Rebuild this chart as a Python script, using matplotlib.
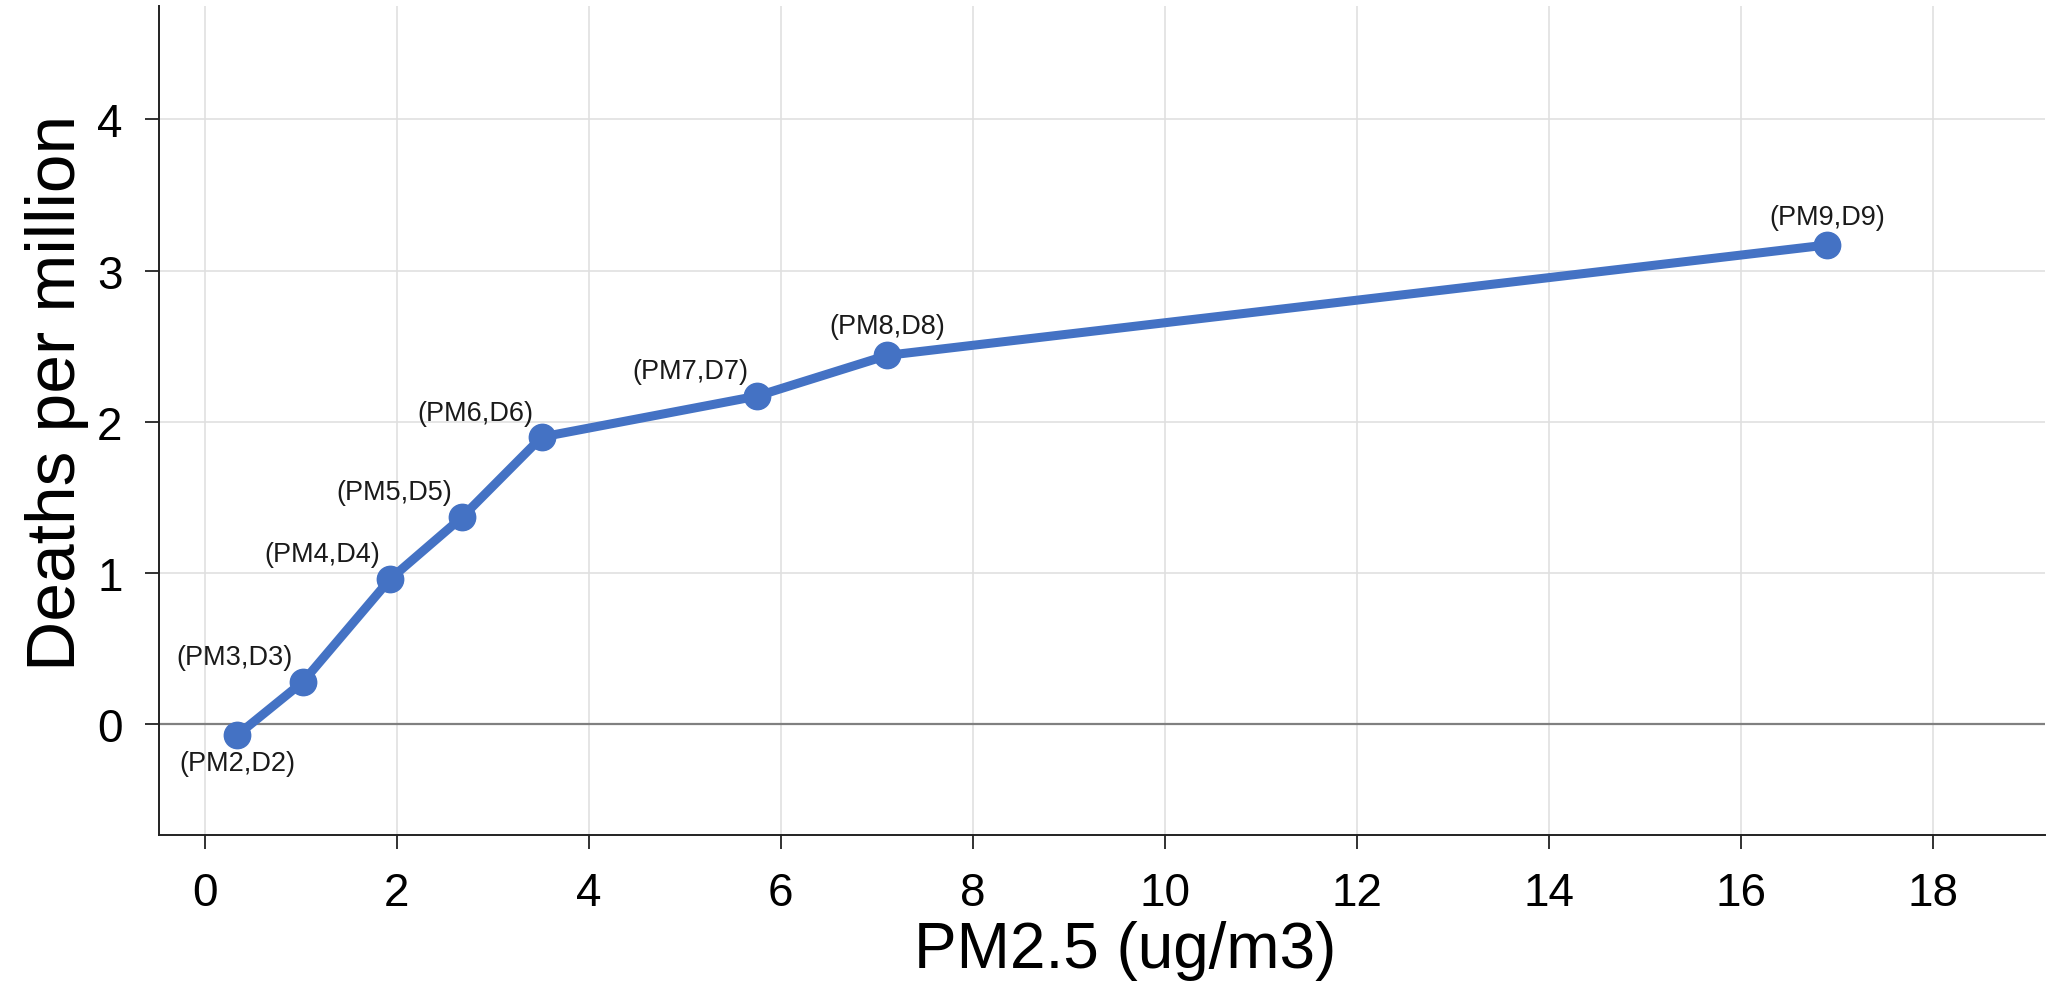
import matplotlib
matplotlib.use('Agg')
import matplotlib.pyplot as plt

# values
pm25 = [0.34, 1.02, 1.93, 2.68, 3.51, 5.75, 7.11, 16.90]
deaths = [-0.07, 0.28, 0.96, 1.37, 1.90, 2.17, 2.44, 3.17]
point_labels = ['(PM2,D2)', '(PM3,D3)', '(PM4,D4)', '(PM5,D5)',
                '(PM6,D6)', '(PM7,D7)', '(PM8,D8)', '(PM9,D9)']
x_ticks = [0, 2, 4, 6, 8, 10, 12, 14, 16, 18]
y_ticks = [0, 1, 2, 3, 4]

# where each label sits relative to its point (points)
label_offsets = [(0, -20), (-49, 18), (-49, 18), (-49, 18),
                 (-48, 17), (-48, 18), (0, 21), (0, 20)]

plt.rcParams['font.family'] = ['Liberation Sans', 'DejaVu Sans']

fig = plt.figure(figsize=(20.72, 9.95), dpi=100)
ax = fig.add_axes([0.0766, 0.16, 0.9104, 0.833])

blue = '#4472C4'
ax.axhline(0, color='#808080', linewidth=1.6, zorder=1)
ax.plot(pm25, deaths, color=blue, linewidth=6.5, marker='o',
        markersize=19, zorder=3, solid_capstyle='round')

for x, y, lab, off in zip(pm25, deaths, point_labels, label_offsets):
    ax.annotate(lab, (x, y), xytext=off, textcoords='offset points',
                ha='center', va='center', fontsize=19.5, color='#1a1a1a')

ax.set_xlim(-0.48, 19.17)
ax.set_ylim(-0.73, 4.75)
ax.set_xticks(x_ticks)
ax.set_yticks(y_ticks)
ax.grid(True, color='#e0e0e0', linewidth=1.2, zorder=0)
ax.set_axisbelow(True)

for s in ['top', 'right']:
    ax.spines[s].set_visible(False)
for s in ['left', 'bottom']:
    ax.spines[s].set_linewidth(1.4)
    ax.spines[s].set_color('#222222')

ax.tick_params(axis='both', labelsize=33, length=10, width=1.3,
               color='#222222', pad=16)

ax.set_xlabel('PM2.5 (ug/m3)', fontsize=46, labelpad=4)
ax.set_ylabel('Deaths per million', fontsize=50, labelpad=6)
ax.xaxis.label.set_x(0.5126)
ax.yaxis.label.set_y(0.534)

fig.savefig('out.png', dpi=100)
